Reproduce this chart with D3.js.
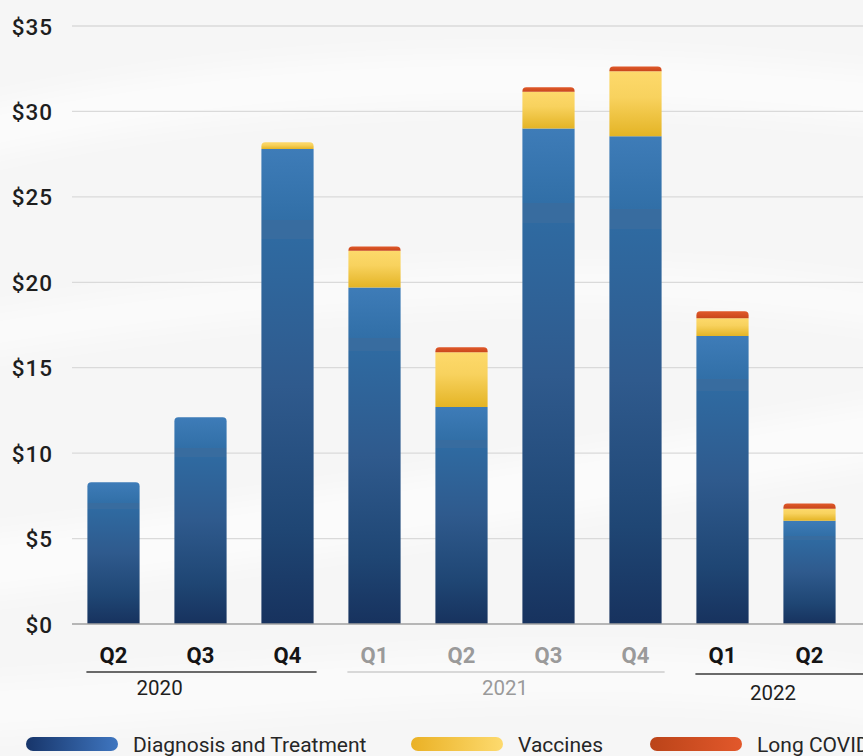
<!DOCTYPE html>
<html>
<head>
<meta charset="utf-8">
<script src="https://cdn.jsdelivr.net/npm/d3@7"></script>
<style>
  html, body { margin: 0; padding: 0; background: #f6f6f6; }
  svg { display: block; font-family: Roboto, "Noto Sans", sans-serif; }
</style>
</head>
<body>
<svg id="chart" width="863" height="756"></svg>
<script>
// Quarterly spending, billions of dollars
const quarters  = ["Q2", "Q3", "Q4", "Q1", "Q2", "Q3", "Q4", "Q1", "Q2"];
const years     = ["2020", "2020", "2020", "2021", "2021", "2021", "2021", "2022", "2022"];
const diagnosis = [8.3, 12.1, 27.8, 19.7, 12.7, 29.0, 28.55, 16.85, 6.05];
const vaccines  = [0, 0, 0.4, 2.15, 3.2, 2.15, 3.8, 1.05, 0.7];
const longCovid = [0, 0, 0, 0.25, 0.3, 0.27, 0.28, 0.4, 0.3];
const yTicks    = [0, 5, 10, 15, 20, 25, 30, 35];
const seriesNames = ["Diagnosis and Treatment", "Vaccines", "Long COVID"];
const yearGroups  = ["2020", "2021", "2022"];
const mutedYears  = ["2021"];

const W = 863, H = 756;
const svg = d3.select("#chart");
const defs = svg.append("defs");

// background with soft light swooshes
svg.append("rect").attr("width", W).attr("height", H).attr("fill", "#f6f6f6");
defs.append("filter").attr("id", "soft")
  .append("feGaussianBlur").attr("stdDeviation", 12);
const swoosh = svg.append("g").attr("filter", "url(#soft)").attr("fill", "none")
  .attr("stroke", "#ffffff");
[
  {d: "M-50,140 C200,80 500,60 900,100", w: 50, o: 0.6},
  {d: "M-50,340 C250,290 600,260 900,310", w: 40, o: 0.5},
  {d: "M-50,570 C300,530 600,480 900,430", w: 60, o: 0.6},
  {d: "M-50,710 C300,690 600,650 900,700", w: 50, o: 0.5}
].forEach(s => swoosh.append("path").attr("d", s.d)
  .attr("stroke-width", s.w).attr("stroke-opacity", s.o));

// gradients
function vGrad(id, stops) {
  const g = defs.append("linearGradient").attr("id", id)
    .attr("x1", 0).attr("y1", 0).attr("x2", 0).attr("y2", 1);
  stops.forEach(([o, c]) => g.append("stop").attr("offset", o).attr("stop-color", c));
}
function hGrad(id, stops) {
  const g = defs.append("linearGradient").attr("id", id)
    .attr("x1", 0).attr("y1", 0).attr("x2", 1).attr("y2", 0);
  stops.forEach(([o, c]) => g.append("stop").attr("offset", o).attr("stop-color", c));
}
vGrad("gBlue", [[0, "#3e7cb8"], [0.15, "#316fa7"], [0.15, "#386c9f"], [0.19, "#386c9f"],
                [0.19, "#2f6aa1"], [0.5, "#2f5a8d"], [0.8, "#1f4674"], [1, "#17325e"]]);
vGrad("gYellow", [[0, "#fdd96b"], [0.4, "#f8d25e"], [1, "#e4b425"]]);
vGrad("gRed", [[0, "#e0592a"], [1, "#c9461b"]]);
hGrad("lBlue", [[0, "#17356a"], [1, "#3f76c0"]]);
hGrad("lYellow", [[0, "#eab125"], [1, "#fdda6e"]]);
hGrad("lRed", [[0, "#bb4419"], [1, "#e2582b"]]);
const fills = ["url(#gBlue)", "url(#gYellow)", "url(#gRed)"];
const legendFills = ["url(#lBlue)", "url(#lYellow)", "url(#lRed)"];

// scales
const idx = d3.range(quarters.length);
const x = d3.scaleBand().domain(idx).range([70, 853]).paddingInner(0.4).paddingOuter(0.2);
const y = d3.scaleLinear().domain([0, 35]).range([624, 26]);

// gridlines and y labels
const yAxis = d3.axisLeft(y).tickValues(yTicks).tickFormat(d => "$" + d)
  .tickSize(0).tickPadding(0);
const ga = svg.append("g").attr("transform", "translate(53,0)").call(yAxis);
ga.select(".domain").remove();
ga.selectAll("text").attr("font-size", 22.5).attr("font-weight", 500)
  .attr("letter-spacing", 1).attr("dy", "0.36em")
  .attr("fill", "#1e1e1e").attr("font-family", "Roboto, sans-serif");
svg.append("g").selectAll("line").data(yTicks.filter(t => t > 0)).join("line")
  .attr("x1", 72).attr("x2", W).attr("y1", d => y(d)).attr("y2", d => y(d))
  .attr("stroke", "#dadada").attr("stroke-width", 1.3);

// stacked bars
const rows = idx.map(i => ({i, a: diagnosis[i], b: vaccines[i], c: longCovid[i]}));
const stack = d3.stack().keys(["a", "b", "c"]);
const layers = stack(rows);
const topKey = rows.map(r => r.c > 0 ? 2 : (r.b > 0 ? 1 : 0));

function segPath(x0, x1, yTop, yBot, r) {
  r = Math.min(r, (yBot - yTop));
  return `M${x0},${yBot} L${x0},${yTop + r} Q${x0},${yTop} ${x0 + r},${yTop}` +
         ` L${x1 - r},${yTop} Q${x1},${yTop} ${x1},${yTop + r} L${x1},${yBot} Z`;
}
const bars = svg.append("g");
layers.forEach((layer, k) => {
  bars.append("g").selectAll("path").data(layer.filter(d => d[1] > d[0])).join("path")
    .attr("d", d => {
      const i = d.data.i;
      const r = topKey[i] === k ? 4 : 0;
      return segPath(x(i), x(i) + x.bandwidth(), y(d[1]), y(d[0]), r);
    })
    .attr("fill", fills[k]);
});

// baseline
svg.append("line").attr("x1", 72).attr("x2", W).attr("y1", y(0)).attr("y2", y(0))
  .attr("stroke", "#a0a0a0").attr("stroke-width", 1.6);

// quarter labels
svg.append("g").selectAll("text").data(idx).join("text")
  .attr("x", i => x(i) + x.bandwidth() / 2).attr("y", 663)
  .attr("text-anchor", "middle").attr("font-size", 22).attr("font-weight", 700)
  .attr("fill", i => mutedYears.includes(years[i]) ? "#9a9a9a" : "#141414")
  .text(i => quarters[i]);

// year grouping lines and labels
const yearLayout = {
  "2020": {lineY: 672, labelY: 695, labelAt: 0.53, extend: false},
  "2021": {lineY: 672, labelY: 695, labelAt: 1.5, extend: false},
  "2022": {lineY: 674, labelY: 700, labelAt: 0.58, extend: true}
};
const yg = svg.append("g");
yearGroups.forEach(yr => {
  const members = idx.filter(i => years[i] === yr);
  const first = members[0], last = members[members.length - 1];
  const L = yearLayout[yr];
  const muted = mutedYears.includes(yr);
  const x0 = x(first) - 1;
  const x1 = L.extend ? W : x(last) + x.bandwidth() + 3;
  yg.append("line").attr("x1", x0).attr("x2", x1).attr("y1", L.lineY).attr("y2", L.lineY)
    .attr("stroke", muted ? "#b5b5b5" : "#3a3a3a").attr("stroke-width", muted ? 1.2 : 1.4);
  const cx = x(first) + x.bandwidth() / 2 + L.labelAt * x.step();
  yg.append("text").attr("x", cx).attr("y", L.labelY).attr("text-anchor", "middle")
    .attr("font-size", 20.5).attr("font-weight", 400)
    .attr("fill", muted ? "#9a9a9a" : "#1e1e1e").text(yr);
});

// legend
const legendX = [26, 411, 650];
const lg = svg.append("g");
seriesNames.forEach((name, k) => {
  lg.append("rect").attr("x", legendX[k]).attr("y", 737).attr("width", 92).attr("height", 14)
    .attr("rx", 7).attr("fill", legendFills[k]);
  lg.append("text").attr("x", legendX[k] + 107).attr("y", 752)
    .attr("font-size", 21).attr("font-weight", 400).attr("fill", "#262626").text(name);
});
</script>
</body>
</html>
